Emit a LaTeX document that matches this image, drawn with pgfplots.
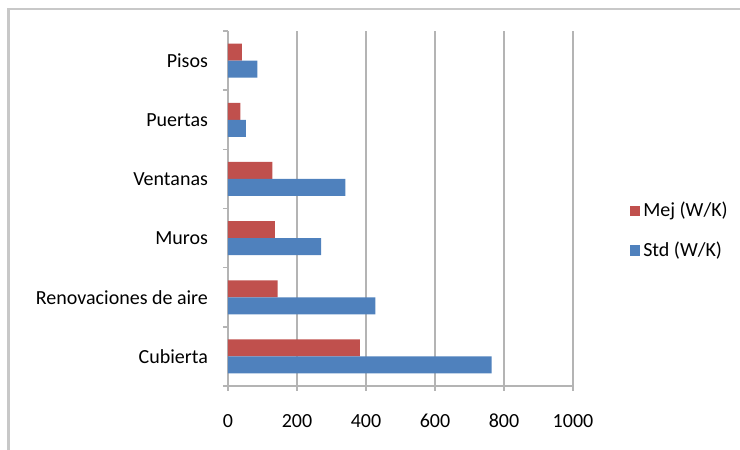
\documentclass[border=0pt]{standalone}
\usepackage{fontspec}
\setmainfont{Carlito}
\usepackage{pgfplots}
\pgfplotsset{compat=1.18}

\definecolor{mejred}{HTML}{C0504D}
\definecolor{stdblue}{HTML}{4F81BD}
\definecolor{gridgray}{HTML}{B4B4B4}
\definecolor{framegray}{HTML}{C8C8C8}

\begin{document}
\begin{tikzpicture}[font=\fontsize{10}{12}\selectfont]
% page area and the chart frame
\useasboundingbox (-114pt,-32pt) rectangle (256pt,193pt);
\draw[framegray, line width=1.1pt] (-109.75pt,-60pt) -- (-109.75pt,188.5pt) -- (300pt,188.5pt);
\begin{axis}[
  at={(0pt,0pt)}, anchor=south west,
  scale only axis, width=172.5pt, height=177.5pt,
  xbar, bar width=8.5pt,
  xmin=0, xmax=1000, ymin=-0.5, ymax=5.5,
  axis x line*=bottom, axis y line*=left,
  axis line style={gridgray, line width=0.9pt},
  xtick={0,200,...,1000},
  xmajorgrids, grid style={gridgray, line width=1pt},
  tick align=outside, major tick length=2.5pt,
  tick style={gridgray, line width=0.8pt},
  ytick={-0.5,0.5,...,5.5}, yticklabels={},
  extra y ticks={0,1,2,3,4,5},
  extra y tick labels={Cubierta,Renovaciones de aire,Muros,Ventanas,Puertas,Pisos},
  extra y tick style={major tick length=0pt, grid=none},
  yticklabel style={xshift=-6.5pt},
  xticklabel style={yshift=-8pt, /pgf/number format/1000 sep={}},
  /pgf/number format/assume math mode=true,
  legend style={at={(1.165,0.437)}, anchor=west, draw=none, fill=none,
    row sep=8pt, inner sep=0pt,
    nodes={inner sep=1.5pt}},
  legend cell align=left,
  legend image code/.code={\fill[#1, draw=none] (0pt,-2.6pt) rectangle (5pt,2.6pt);},
]
\addplot[fill=mejred, draw=none, bar shift=4.25pt] coordinates {
  (382,0) (144,1) (136,2) (129,3) (36,4) (40,5)};
\addlegendentry{Mej (W/K)}
\addplot[fill=stdblue, draw=none, bar shift=-4.25pt] coordinates {
  (764,0) (427,1) (270,2) (340,3) (52,4) (85,5)};
\addlegendentry{Std (W/K)}
\end{axis}
\end{tikzpicture}
\end{document}
